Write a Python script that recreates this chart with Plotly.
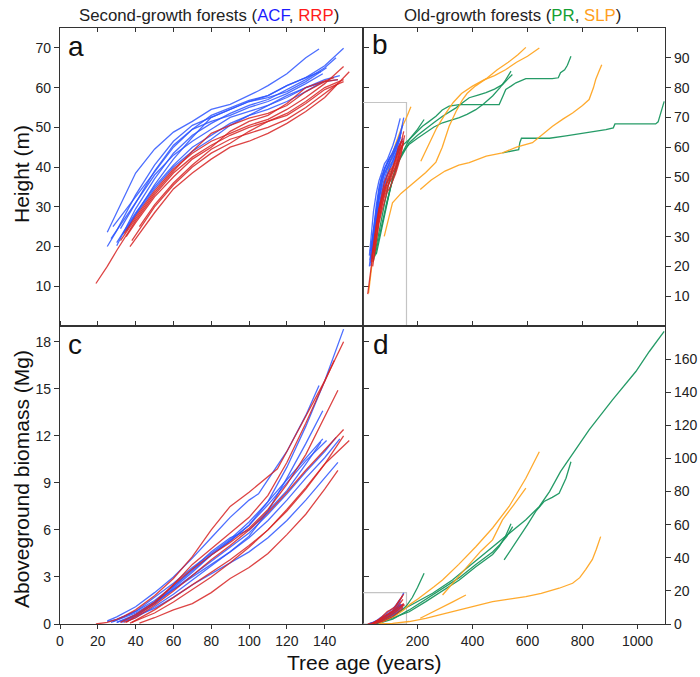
import plotly.graph_objects as go

# ---------------- DATA ----------------
# Second-growth ACF trees (blue): age (years), height (m), biomass (Mg)
ACF_AGE = [
    [25, 30, 40, 50, 60, 70, 80, 90, 100, 105, 110, 120, 130, 137],
    [25, 30, 40, 50, 60, 70, 80, 90, 100, 110, 120, 130, 140, 150],
    [30, 40, 50, 60, 70, 80, 90, 100, 110, 120, 130, 140, 146],
    [33, 40, 50, 60, 70, 80, 90, 100, 110, 120, 130, 141],
    [28, 40, 50, 60, 70, 80, 90, 100, 110, 120, 130, 139],
    [30, 40, 50, 60, 70, 80, 90, 100, 110, 120, 130, 140, 147],
    [27, 40, 50, 60, 70, 80, 90, 100, 110, 120, 130, 140, 148],
    [35, 40, 50, 60, 70, 80, 90, 100, 110, 120, 130, 139],
    [32, 40, 50, 60, 70, 80, 90, 100, 110, 120, 130, 138],
]
ACF_HEIGHT = [
    [23.6, 28.5, 38.5, 44.5, 48.8, 51.5, 54.5, 55.8, 58.0, 59.2, 60.5, 63.5, 67.5, 69.7],
    [20.0, 24.0, 33.0, 40.5, 46.5, 50.5, 52.5, 54.5, 56.5, 58.0, 60.5, 62.5, 65.5, 69.9],
    [20.2, 29.5, 37.0, 43.5, 48.0, 51.0, 53.5, 55.5, 57.0, 59.5, 62.0, 65.0, 67.5],
    [22.9, 28.0, 35.5, 42.0, 47.5, 52.5, 54.5, 56.5, 57.5, 59.0, 61.5, 65.0],
    [25.0, 32.5, 39.0, 45.0, 49.5, 51.5, 53.0, 55.0, 56.5, 58.5, 61.0, 63.5],
    [21.0, 28.5, 35.0, 40.5, 45.0, 48.0, 51.0, 53.0, 55.5, 58.0, 60.0, 61.5, 62.0],
    [22.0, 31.0, 38.0, 43.0, 46.5, 49.5, 52.5, 54.0, 55.5, 57.5, 60.0, 62.0, 63.0],
    [24.0, 28.0, 34.5, 40.0, 44.0, 47.0, 50.5, 53.0, 54.5, 56.5, 59.0, 61.5],
    [24.5, 31.0, 39.0, 45.5, 49.5, 53.0, 55.0, 56.8, 58.0, 60.5, 62.5, 64.0],
]
ACF_BIOMASS = [
    [0.2, 0.45, 1.1, 2.0, 3.0, 4.2, 5.5, 6.8, 7.9, 8.3, 9.2, 11.0, 13.3, 15.2],
    [0.15, 0.3, 0.8, 1.5, 2.4, 3.4, 4.4, 5.3, 6.3, 7.8, 10.0, 12.6, 15.5, 18.8],
    [0.1, 0.6, 1.3, 2.2, 3.1, 4.0, 4.9, 5.8, 7.0, 8.3, 9.7, 11.0, 11.9],
    [0.1, 0.5, 1.3, 2.3, 3.3, 4.4, 5.3, 6.3, 7.6, 9.0, 10.4, 11.7],
    [0.15, 0.8, 1.7, 2.6, 3.6, 4.5, 5.4, 6.5, 7.8, 9.2, 10.6, 11.8],
    [0.1, 0.5, 1.0, 1.7, 2.5, 3.2, 3.9, 4.6, 5.5, 6.6, 7.9, 9.3, 10.3],
    [0.1, 0.7, 1.4, 2.2, 3.0, 3.8, 4.6, 5.5, 6.6, 7.9, 9.3, 10.6, 11.8],
    [0.15, 0.4, 1.1, 1.9, 2.8, 3.7, 4.6, 5.6, 7.2, 9.3, 11.5, 13.6],
    [0.1, 0.6, 1.4, 2.4, 3.5, 4.6, 5.5, 6.0, 7.2, 8.5, 10.2, 11.6],
]

# Second-growth RRP trees (red)
RRP_AGE = [
    [19, 25, 30, 34, 40, 50, 60, 70, 80, 90, 100, 110, 115, 120, 130, 140, 150],
    [37, 40, 50, 60, 70, 80, 90, 100, 110, 120, 130, 140, 153],
    [34, 40, 50, 60, 70, 80, 90, 100, 110, 120, 130, 140, 150],
    [42, 50, 60, 70, 80, 90, 100, 110, 120, 130, 140, 147],
    [32, 40, 50, 60, 70, 80, 90, 100, 110, 120, 130, 140, 147],
    [35, 40, 50, 60, 70, 80, 90, 100, 110, 120, 130, 140, 145],
    [38, 50, 60, 70, 80, 90, 100, 110, 120, 130, 140, 150],
]
RRP_HEIGHT = [
    [10.7, 15.0, 19.0, 22.0, 26.5, 33.0, 38.5, 42.5, 45.5, 48.0, 50.0, 51.5, 52.5, 53.5, 56.5, 60.0, 62.0],
    [20.0, 22.0, 28.5, 34.5, 38.5, 42.0, 45.0, 46.5, 48.5, 51.0, 54.0, 57.5, 64.0],
    [23.3, 27.5, 34.0, 39.5, 43.5, 46.5, 48.5, 50.5, 52.0, 54.5, 57.5, 61.0, 65.3],
    [25.0, 30.5, 36.0, 40.5, 44.5, 47.0, 48.5, 50.0, 52.0, 55.0, 58.5, 61.0],
    [21.5, 27.0, 33.5, 39.0, 44.0, 48.5, 50.5, 52.3, 53.5, 55.5, 59.0, 61.5, 62.0],
    [22.5, 26.0, 32.5, 37.5, 42.0, 45.0, 49.0, 51.5, 53.0, 56.0, 60.0, 61.8, 62.5],
    [21.5, 30.0, 35.5, 40.0, 43.5, 46.0, 49.0, 51.5, 53.0, 56.0, 59.5, 61.5],
]
RRP_BIOMASS = [
    [0.0, 0.1, 0.3, 0.5, 0.9, 1.8, 2.9, 4.3, 6.0, 7.5, 8.4, 9.4, 9.9, 11.0, 13.3, 15.5, 18.0],
    [0.05, 0.2, 0.7, 1.4, 2.2, 3.0, 3.9, 4.9, 6.0, 7.3, 8.7, 10.2, 11.7],
    [0.1, 0.4, 1.2, 2.1, 3.1, 4.1, 5.0, 6.0, 7.1, 8.4, 9.8, 11.1, 12.4],
    [0.05, 0.4, 0.9, 1.3, 2.0, 2.9, 3.6, 4.5, 5.7, 7.0, 8.6, 9.8],
    [0.1, 0.6, 1.4, 2.5, 3.5, 4.4, 5.2, 6.1, 7.3, 8.9, 10.8, 13.2, 14.9],
    [0.1, 0.5, 1.3, 2.5, 3.8, 4.8, 5.8, 6.8, 8.2, 10.3, 12.8, 15.5, 16.8],
    [0.1, 0.9, 1.7, 2.5, 3.3, 4.1, 5.0, 6.0, 7.2, 8.6, 10.2, 12.0],
]

# Old-growth PR trees (green): height series
PR_H_AGE = [
    [509, 540, 568, 572, 578, 620, 680, 740, 812, 885, 912, 918, 990, 1066, 1075, 1085, 1097],
    [40, 60, 80, 100, 120, 133, 150, 170, 195, 218, 240, 267, 290, 315, 352, 400, 450, 497,
     510, 521, 540, 558, 594, 640, 690, 712, 720, 735, 745, 758],
    [50, 70, 90, 110, 130, 150, 170, 200, 230, 260, 291, 315, 340, 365, 388, 420, 449, 480, 509, 530, 545],
    [85, 100, 120, 145, 170, 200, 230, 260, 291, 320, 352, 380, 412, 440, 473, 500, 520, 540],
    [45, 60, 80, 100, 120, 134, 150, 170, 200, 213, 224],
]
PR_HEIGHT = [
    [58.1, 58.6, 59.2, 61.5, 63.0, 63.0, 63.0, 63.8, 64.8, 65.9, 66.5, 67.8, 67.8, 67.8, 68.5, 71.5, 75.4],
    [22, 32, 41, 50, 56, 59, 61, 62.6, 65, 67, 68.5, 70.4, 72.5, 73.8, 74.3, 74.3, 74.3, 74.3,
     77, 79.4, 80.5, 81.6, 83, 83, 83, 83.3, 85, 86, 87.5, 90.5],
    [24, 33, 42, 50, 55, 58.5, 61.5, 64, 66, 68.3, 70.4, 71.8, 73.2, 75, 76.6, 77.5, 78.3, 79.5, 81, 83, 84.4],
    [40, 46, 53, 58.1, 61, 63, 65, 66.8, 68.2, 69, 69.9, 71, 72.6, 74.5, 77.2, 80, 82.5, 85.5],
    [23.4, 30, 38, 46, 52, 56, 59, 62.6, 66, 68, 69.3],
]
# Old-growth SLP trees (orange): height series
SLP_H_AGE = [
    [79, 100, 109, 140, 170, 200, 230, 267, 290, 315, 340, 364, 380, 410, 450, 490, 530, 565, 594],
    [212, 240, 270, 300, 330, 360, 400, 440, 480, 520, 560, 600, 643],
    [210, 250, 300, 350, 388, 450, 509, 560, 618, 650, 691, 730, 764, 800, 824, 840, 848, 860, 870],
    [22, 40, 60, 80, 100, 120, 140, 160, 176],
]
SLP_HEIGHT = [
    [30.1, 38, 41.3, 44.5, 46.9, 49, 51.5, 55, 60, 67, 72, 76, 78, 80.5, 83, 86, 88.5, 91, 93.5],
    [55.3, 61, 66.5, 71, 75, 78, 80.5, 82.5, 84, 86, 88.5, 90.5, 93.3],
    [45.8, 49, 52, 54, 54.8, 57, 58.1, 60, 61.5, 64, 67, 69.5, 71.5, 74, 76, 80, 82.7, 85.5, 87.7],
    [11, 25, 38, 47, 55, 61, 66, 70, 73.6],
]

# Old-growth PR trees (green): biomass series
PR_B_AGE = [
    [50, 70, 109, 170, 255, 327, 400, 473, 533, 594, 643, 680, 720, 764, 824, 909, 994, 1043, 1097],
    [515, 545, 570, 600, 630, 660, 690, 715, 740, 758],
    [60, 110, 170, 230, 291, 352, 412, 473, 497, 520, 540],
    [60, 110, 170, 230, 291, 352, 412, 473, 500, 525, 546],
    [50, 80, 110, 140, 160, 181, 200, 224],
]
PR_BIOMASS = [
    [0, 1.8, 5.4, 10.5, 18.6, 26.6, 36.7, 46.7, 54.8, 63, 71, 80, 92, 103, 117.3, 135.4, 152.5, 164.6, 176.7],
    [38.7, 46, 52, 60, 68, 74, 76.5, 79, 88, 98],
    [0.5, 3.5, 7.4, 13.5, 20, 26.6, 34.6, 42, 46.7, 53, 60.5],
    [0.5, 3.0, 8.5, 15, 21.5, 28, 36, 43.5, 48, 53, 58.8],
    [0.3, 2, 4.5, 8, 11, 16, 22, 30.6],
]
# Old-growth SLP trees (orange): biomass series
SLP_B_AGE = [
    [60, 90, 120, 150, 174, 200, 230, 260, 291, 350, 412, 473, 533, 594, 643],
    [291, 330, 380, 430, 473, 509, 550, 594],
    [60, 109, 170, 230, 291, 352, 412, 473, 533, 594, 650, 715, 764, 790, 812, 836, 850, 866],
    [210, 250, 291, 330, 376],
]
SLP_BIOMASS = [
    [0.3, 2.5, 5, 8.5, 12, 15, 18.5, 22.5, 26.6, 36, 46.7, 58, 71, 88, 104],
    [17.5, 25, 35, 44, 50.8, 62.9, 72, 82],
    [0, 0.4, 1.5, 3.4, 6, 8.5, 11, 13.5, 15, 16.5, 18.5, 21.6, 24.6, 28, 33, 39, 45, 52.8],
    [3.5, 7, 10.5, 13.5, 17.5],
]

# tick labels
A_YTICKS = [10, 20, 30, 40, 50, 60, 70]
B_YTICKS = [10, 20, 30, 40, 50, 60, 70, 80, 90]
C_YTICKS = [0, 3, 6, 9, 12, 15, 18]
D_YTICKS = [0, 20, 40, 60, 80, 100, 120, 140, 160]
C_XTICKS = [0, 20, 40, 60, 80, 100, 120, 140]
D_XTICKS = [200, 400, 600, 800, 1000]

# ---------------- STYLE ----------------
BLUE = "rgba(45,85,255,0.85)"
RED = "rgba(215,35,35,0.85)"
GREEN = "rgba(25,150,95,0.95)"
ORANGE = "rgba(255,165,35,0.95)"
FONT = "Arial, Liberation Sans, sans-serif"
LW = 1.3

fig = go.Figure()


def add_lines(ages, vals, color, xa, ya):
    for a, v in zip(ages, vals):
        fig.add_trace(go.Scatter(x=a, y=v, mode="lines", xaxis=xa, yaxis=ya,
                                 line=dict(color=color, width=LW), showlegend=False,
                                 hoverinfo="skip"))


# panel b / d old-growth first (below)
add_lines(PR_H_AGE, PR_HEIGHT, GREEN, "x2", "y2")
add_lines(SLP_H_AGE, SLP_HEIGHT, ORANGE, "x2", "y2")
add_lines(PR_B_AGE, PR_BIOMASS, GREEN, "x4", "y4")
add_lines(SLP_B_AGE, SLP_BIOMASS, ORANGE, "x4", "y4")

for xa, ya, hv in [("x", "y", "h"), ("x2", "y2", "h"), ("x3", "y3", "b"), ("x4", "y4", "b")]:
    if hv == "h":
        add_lines(ACF_AGE, ACF_HEIGHT, BLUE, xa, ya)
        add_lines(RRP_AGE, RRP_HEIGHT, RED, xa, ya)
    else:
        add_lines(ACF_AGE, ACF_BIOMASS, BLUE, xa, ya)
        add_lines(RRP_AGE, RRP_BIOMASS, RED, xa, ya)

AX = "#333333"
TF = dict(family=FONT, size=14, color="#222222")
common = dict(showgrid=False, zeroline=False, showline=True, linecolor=AX, linewidth=1.2,
              tickcolor=AX, tickwidth=1.2, tickfont=TF, fixedrange=True, automargin=False)

fig.update_layout(
    width=700, height=677,
    margin=dict(l=60, r=35, t=28, b=53),
    paper_bgcolor="white", plot_bgcolor="white",
    showlegend=False,
    xaxis=dict(domain=[0, 0.5], anchor="y", range=[0, 160], tickvals=[20, 40, 60, 80, 100, 120, 140],
               showticklabels=False, ticks="inside", ticklen=4, mirror="ticks", **common),
    yaxis=dict(domain=[0.5, 1], anchor="x", range=[0, 75], tickvals=A_YTICKS,
               ticks="outside", ticklen=5, mirror="ticks", **common),
    xaxis2=dict(domain=[0.5, 1], anchor="y2", range=[0, 1100], tickvals=D_XTICKS,
                showticklabels=False, ticks="inside", ticklen=4, mirror="ticks", **common),
    yaxis2=dict(domain=[0.5, 1], anchor="x2", side="right", range=[0, 100], tickvals=B_YTICKS,
                ticks="outside", ticklen=5, mirror=True, **common),
    xaxis3=dict(domain=[0, 0.5], anchor="y3", range=[0, 160], tickvals=C_XTICKS,
                ticks="outside", ticklen=4, mirror="ticks", **common),
    yaxis3=dict(domain=[0, 0.5], anchor="x3", range=[0, 19], tickvals=C_YTICKS,
                ticks="outside", ticklen=5, mirror="ticks", **common),
    xaxis4=dict(domain=[0.5, 1], anchor="y4", range=[0, 1100], tickvals=D_XTICKS,
                ticks="outside", ticklen=4, mirror="ticks", **common),
    yaxis4=dict(domain=[0, 0.5], anchor="x4", side="right", range=[0, 180], tickvals=D_YTICKS,
                ticks="outside", ticklen=5, mirror=True, **common),
)

# gray rectangles showing the extent of panels a and c
fig.add_shape(type="rect", xref="x2", yref="y2", x0=0, x1=160, y0=0, y1=75,
              line=dict(color="#c4c4c4", width=1.2), layer="below")
fig.add_shape(type="rect", xref="x4", yref="y4", x0=0, x1=160, y0=0, y1=19,
              line=dict(color="#c4c4c4", width=1.2), layer="below")

ann = []
# column titles
ann.append(dict(xref="paper", yref="paper", x=(209 - 60) / 605, y=1 + (28 - 16) / 596,
                xanchor="center", yanchor="middle", showarrow=False,
                text="Second-growth forests (<span style='color:#1c1cff'>ACF</span>, "
                     "<span style='color:#ff1a1a'>RRP</span>)",
                font=dict(family=FONT, size=16.8, color="#222222")))
ann.append(dict(xref="paper", yref="paper", x=(512 - 60) / 605, y=1 + (28 - 16) / 596,
                xanchor="center", yanchor="middle", showarrow=False,
                text="Old-growth forests (<span style='color:#13a032'>PR</span>, "
                     "<span style='color:#ffa020'>SLP</span>)",
                font=dict(family=FONT, size=16.8, color="#222222")))
# axis titles
ann.append(dict(xref="paper", yref="paper", x=(364 - 60) / 605, y=-(662 - 624) / 596,
                xanchor="center", yanchor="middle", showarrow=False, text="Tree age (years)",
                font=dict(family=FONT, size=21, color="#111111")))
ann.append(dict(xref="paper", yref="paper", x=(21 - 60) / 605, y=(624 - 174) / 596,
                xanchor="center", yanchor="middle", showarrow=False, text="Height (m)",
                textangle=-90, font=dict(family=FONT, size=21, color="#111111")))
ann.append(dict(xref="paper", yref="paper", x=(21 - 60) / 605, y=(624 - 479) / 596,
                xanchor="center", yanchor="middle", showarrow=False, text="Aboveground biomass (Mg)",
                textangle=-90, font=dict(family=FONT, size=21, color="#111111")))
# panel letters
for letter, px, py in [("a", 76, 46), ("b", 380, 45), ("c", 75, 344), ("d", 381, 344)]:
    ann.append(dict(xref="paper", yref="paper", x=(px - 60) / 605, y=(624 - py) / 596,
                    xanchor="center", yanchor="middle", showarrow=False, text=letter,
                    font=dict(family=FONT, size=28, color="#111111")))
fig.update_layout(annotations=ann)

fig.write_html("out.html")
